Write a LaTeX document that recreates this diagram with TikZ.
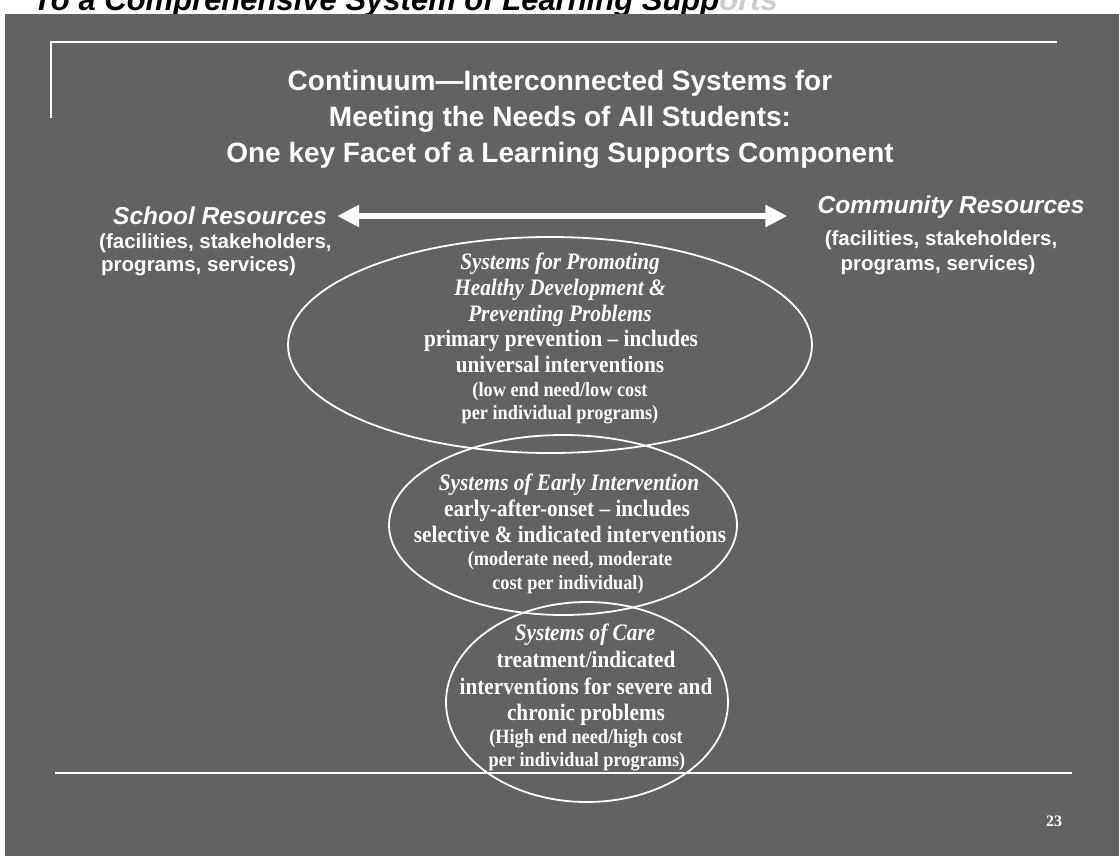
\documentclass[tikz,border=0pt]{standalone}
\usepackage{fontspec}
\setmainfont{Liberation Serif}
\setsansfont{Liberation Sans}
\newfontfamily\condserif[FakeStretch=0.9,Ligatures=TeX]{Liberation Serif}
\usetikzlibrary{arrows.meta}
\definecolor{slidebg}{RGB}{98,98,98}
\begin{document}
\begin{tikzpicture}[x=1pt,y=-1pt,
  titletext/.style={text=white,font=\sffamily\bfseries\fontsize{28}{28}\selectfont,anchor=base,inner sep=0},
  reshead/.style={text=white,font=\sffamily\bfseries\itshape\fontsize{24.5}{24.5}\selectfont,inner sep=0},
  ressub/.style={text=white,font=\sffamily\bfseries\fontsize{20.5}{20.5}\selectfont,inner sep=0,anchor=base},
  syshead/.style={text=white,font=\condserif\bfseries\itshape\fontsize{23.6}{23.6}\selectfont,anchor=base,inner sep=0},
  sysline/.style={text=white,font=\condserif\bfseries\fontsize{23.6}{23.6}\selectfont,anchor=base,inner sep=0},
  sysnote/.style={text=white,font=\condserif\bfseries\fontsize{20.3}{20.3}\selectfont,anchor=base,inner sep=0},
  ring/.style={draw=white,line width=1.8pt},
  frameline/.style={draw=white,line width=2.4pt},
  dblarrow/.style={draw=white,line width=6.5pt,{Triangle[length=22pt,width=21pt]}-{Triangle[length=22pt,width=21pt]}}
]
\useasboundingbox (0,0) rectangle (1119,856);
\fill[white] (0,0) rectangle (1119,856);
\fill[slidebg] (5,14) rectangle (1119,856);

% cut-off heading at the top
\begin{scope}
\clip (0,0) rectangle (1119,14);
\node[anchor=base west,inner sep=0,font=\sffamily\bfseries\itshape\fontsize{31}{31}\selectfont] (toptext) at (33,11) {To a Comprehensive System of Learning Supports};
\fill[white,opacity=0.8] (720,0) rectangle (1119,14);
\end{scope}

% frame lines
\draw[frameline] (51,118) -- (51,42) -- (1057,42);
\draw[frameline] (55,773) -- (1072,773);

% title
\node[titletext] (t1) at (560,91) {Continuum—Interconnected Systems for};
\node[titletext] (t2) at (560,127) {Meeting the Needs of All Students:};
\node[titletext] (t3) at (560,163) {One key Facet of a Learning Supports Component};

% resources
\node[reshead,anchor=west] (school) at (113,216) {School Resources};
\node[ressub,anchor=base west] (s2) at (99,248) {(facilities, stakeholders,};
\node[ressub,anchor=base west] (s3) at (101,271) {programs, services)};
\node[reshead] (community) at (951,207) {Community Resources};
\node[ressub] (c2) at (941,245) {(facilities, stakeholders,};
\node[ressub] (c3) at (938,270) {programs, services)};
\draw[dblarrow,shorten <=10pt,shorten >=30pt] (school.east) -- (school.east -| community.west);

% ellipses
\draw[ring] (550,345) ellipse [x radius=262, y radius=108];
\draw[ring] (563,525) ellipse [x radius=174, y radius=90];
\draw[ring] (587,702) ellipse [x radius=141, y radius=100];

% ellipse 1 text
\node[syshead] (a1) at (560,269) {Systems for Promoting};
\node[syshead] (a2) at (560,295) {Healthy Development \&};
\node[syshead] (a3) at (560,321) {Preventing Problems};
\node[sysline] (a4) at (561,346) {primary prevention – includes};
\node[sysline] (a5) at (560,372) {universal interventions};
\node[sysnote] (a6) at (560,396) {(low end need/low cost};
\node[sysnote] (a7) at (560,419) {per individual programs)};

% ellipse 2 text
\node[syshead] (b1) at (569,490) {Systems of Early Intervention};
\node[sysline] (b2) at (567,516) {early-after-onset – includes};
\node[sysline] (b3) at (570,542) {selective \& indicated interventions};
\node[sysnote] (b4) at (570,565) {(moderate need, moderate};
\node[sysnote] (b5) at (568,589) {cost per individual)};

% ellipse 3 text
\node[syshead] (d1) at (585,640) {Systems of Care};
\node[sysline] (d2) at (586,667) {treatment/indicated};
\node[sysline] (d3) at (586,694) {interventions for severe and};
\node[sysline] (d4) at (586,720) {chronic problems};
\node[sysnote] (d5) at (586,743) {(High end need/high cost};
\node[sysnote] (d6) at (587,766) {per individual programs)};

% page number
\node[text=white,font=\bfseries\fontsize{16}{16}\selectfont,inner sep=0] (pg) at (1054,821) {23};
\end{tikzpicture}
\end{document}
